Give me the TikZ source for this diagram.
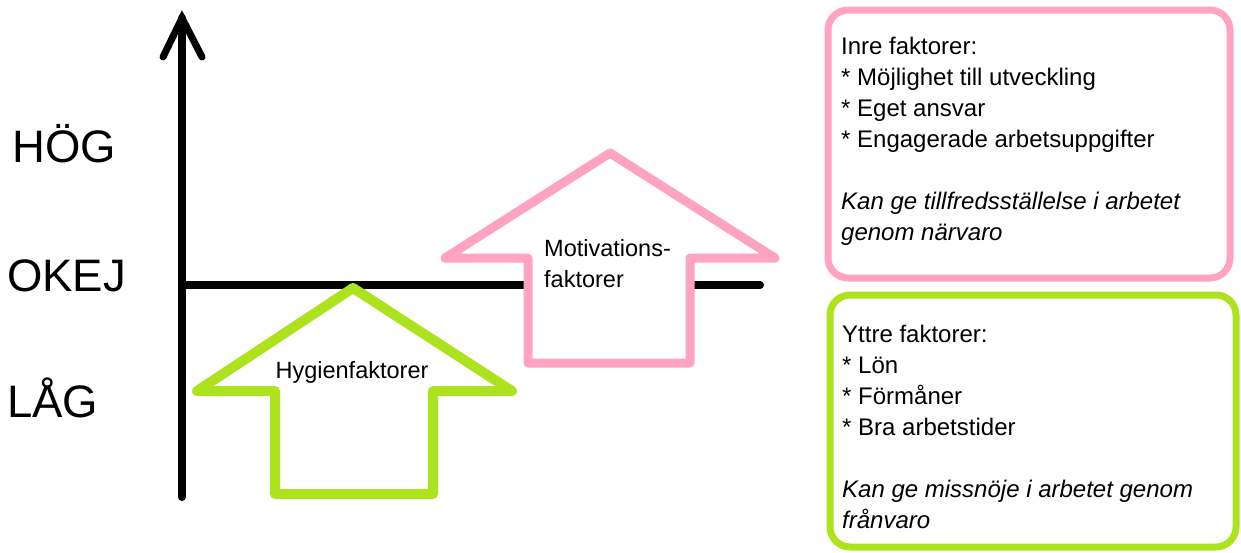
\documentclass[tikz,border=0pt]{standalone}
\usepackage{fontspec}
\setmainfont{Liberation Sans}
\definecolor{pinkc}{RGB}{255,163,194}
\definecolor{greenc}{RGB}{172,226,30}
\begin{document}
\begin{tikzpicture}[x=1pt,y=-1pt,
  axisline/.style={line width=8pt,line cap=round,black},
  arrowshape/.style={line width=9pt,line join=round,fill=white},
  factorbox/.style={line width=7pt,rounded corners=20pt,fill=white},
  lvl/.style={anchor=base west,inner sep=0pt,font=\fontsize{45.5}{50}\selectfont},
  boxtext/.style={anchor=north west,inner sep=0pt,align=left,font=\fontsize{24}{31}\selectfont},
  arrowlabel/.style={inner sep=0pt,font=\fontsize{23.5}{31}\selectfont}]
\useasboundingbox (0,0) rectangle (1241,552);
% coordinates
\coordinate (axbot) at (182,497);
\coordinate (axtop) at (182,18);
\coordinate (hl) at (182,285);
\coordinate (hr) at (760,285);
% level labels
\node[lvl] (hog) at (12,162) {HÖG};
\node[lvl] (okej) at (7,291) {OKEJ};
\node[lvl] (lag) at (7,417) {LÅG};
% axis
\draw[axisline] (axbot) -- (axtop);
\draw[line width=7pt,line cap=round,line join=miter] (163,57) -- (axtop) -- (202,57);
\draw[axisline] (hl) -- (hr);
% green arrow
\draw[arrowshape,line width=10pt,draw=greenc] (353,288) -- (512,391) -- (433,391) -- (433,494) -- (275,494) -- (275,391) -- (197,391) -- cycle;
\node[arrowlabel,anchor=base] (hyg) at (352,378) {Hygienfaktorer};
% pink arrow
\draw[arrowshape,draw=pinkc] (610,153) -- (775,258) -- (690,258) -- (690,363) -- (528,363) -- (528,258) -- (445,258) -- cycle;
\node[arrowlabel,anchor=north west,align=left] (mot) at (544,239) {Motivations-\\faktorer};
% boxes
\draw[factorbox,draw=pinkc] (828,10) rectangle (1230,278);
\node[boxtext] (inre) at (841,37) {Inre faktorer:\\* Möjlighet till utveckling\\* Eget ansvar\\* Engagerade arbetsuppgifter\\[31pt]\textit{Kan ge tillfredsställelse i arbetet}\\\textit{genom närvaro}};
\draw[factorbox,draw=greenc] (830,295) rectangle (1236,547);
\node[boxtext] (yttre) at (842,325) {Yttre faktorer:\\* Lön\\* Förmåner\\* Bra arbetstider\\[31pt]\textit{Kan ge missnöje i arbetet genom}\\\textit{frånvaro}};
\end{tikzpicture}
\end{document}
